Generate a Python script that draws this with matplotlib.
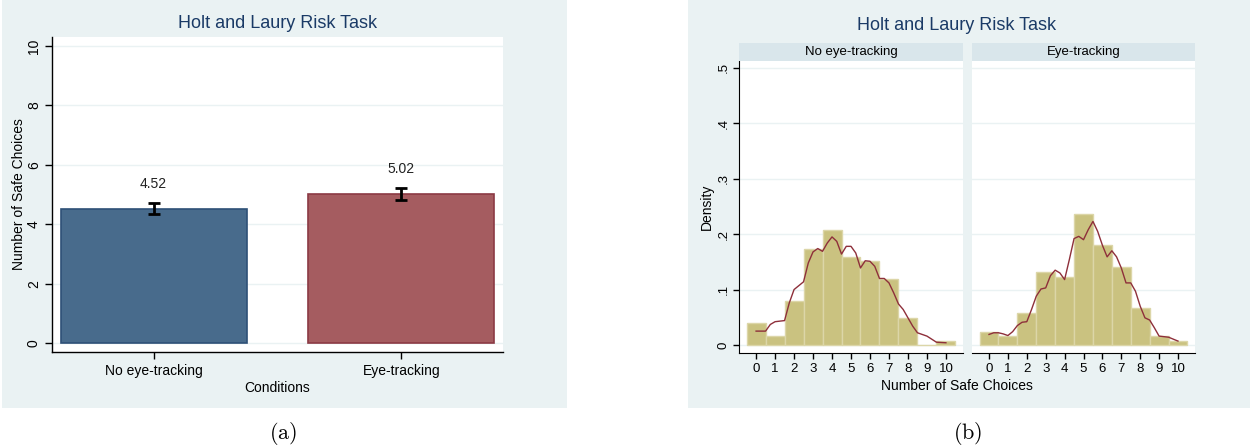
import matplotlib
matplotlib.use("Agg")
import matplotlib.pyplot as plt
from matplotlib.patches import Rectangle

plt.rcParams['font.family'] = ['Liberation Sans', 'DejaVu Sans']
plt.rcParams['mathtext.fontset'] = 'cm'

# Panel (a): mean number of safe choices by condition
conditions = ["No eye-tracking", "Eye-tracking"]
mean_safe = [4.52, 5.02]
se_safe = [0.19, 0.19]

# Panel (b): histogram densities for 0..10 safe choices
choices = list(range(11))
dens_no_et = [0.040, 0.016, 0.079, 0.174, 0.207, 0.158, 0.151, 0.119, 0.048, 0.0, 0.008]
dens_et = [0.024, 0.017, 0.057, 0.131, 0.123, 0.237, 0.180, 0.140, 0.066, 0.017, 0.008]

# kernel density curves
kd_x_no_et = [0, 0.5, 0.75, 1, 1.5, 1.75, 2, 2.5, 2.75, 3, 3.25, 3.5, 3.75, 4, 4.25, 4.5,
              4.75, 5, 5.25, 5.5, 5.75, 6, 6.25, 6.5, 6.75, 7, 7.25, 7.5, 7.75, 8, 8.25,
              8.5, 9, 9.5, 10]
kd_y_no_et = [0.025, 0.025, 0.037, 0.042, 0.044, 0.076, 0.100, 0.114, 0.148, 0.168, 0.174,
              0.169, 0.184, 0.195, 0.187, 0.164, 0.178, 0.178, 0.166, 0.139, 0.152, 0.151,
              0.142, 0.120, 0.120, 0.112, 0.094, 0.074, 0.064, 0.049, 0.034, 0.022, 0.016,
              0.005, 0.004]
kd_x_et = [0, 0.25, 0.5, 0.75, 1, 1.25, 1.5, 1.75, 2, 2.25, 2.5, 2.75, 3, 3.25, 3.5, 3.75,
           4, 4.25, 4.5, 4.75, 5, 5.25, 5.5, 5.75, 6, 6.25, 6.5, 6.75, 7, 7.25, 7.5, 7.75,
           8, 8.25, 8.5, 8.75, 9, 9.5, 10]
kd_y_et = [0.019, 0.022, 0.022, 0.020, 0.017, 0.024, 0.035, 0.041, 0.042, 0.064, 0.088,
           0.101, 0.103, 0.125, 0.135, 0.130, 0.118, 0.154, 0.192, 0.196, 0.190, 0.208,
           0.223, 0.205, 0.180, 0.159, 0.170, 0.159, 0.139, 0.112, 0.112, 0.097, 0.070,
           0.049, 0.045, 0.031, 0.016, 0.014, 0.007]

W, H = 1250, 448
BG = '#eaf2f3'
GRID = '#eaf2f3'
TITLE_C = '#1a3a66'
fig = plt.figure(figsize=(W / 100, H / 100), dpi=100)
fig.patch.set_facecolor('white')


def px_axes(l, t, r, b):
    return fig.add_axes([l / W, 1 - b / H, (r - l) / W, (b - t) / H])


def px_text(x, y, s, **kw):
    fig.text(x / W, 1 - y / H, s, ha='center', va='center', **kw)


# panel backgrounds
fig.add_artist(Rectangle((2 / W, 1 - 408 / H), 565 / W, 408 / H, transform=fig.transFigure,
                         facecolor=BG, edgecolor='none', zorder=-1))
fig.add_artist(Rectangle((688 / W, 1 - 408 / H), 562 / W, 408 / H, transform=fig.transFigure,
                         facecolor=BG, edgecolor='none', zorder=-1))

# ---- (a) bar chart ----
ax = px_axes(52, 37, 503, 352)
pos = [0, 1]
ax.bar(pos, mean_safe, width=0.75, color=['#486b8c', '#a55c60'],
       edgecolor=['#2e5077', '#8b3a44'], linewidth=1.2, zorder=2)
ax.errorbar(pos, mean_safe, yerr=se_safe, fmt='none', ecolor='black',
            elinewidth=2, capsize=4, capthick=2, zorder=3)
for p, m in zip(pos, mean_safe):
    ax.text(p, m + 0.83, f"{m:.2f}", ha='center', va='center', fontsize=10, color='#222222')
ax.set_xlim(-0.41, 1.41)
ax.set_ylim(-0.3, 10.3)
ax.set_yticks(range(0, 11, 2))
ax.set_yticklabels([str(v) for v in range(0, 11, 2)], rotation=90, va='center')
ax.set_xticks(pos)
ax.set_xticklabels(conditions)
ax.tick_params(axis='both', labelsize=10, length=5, width=1, colors='black')
ax.tick_params(axis='y', pad=3)
ax.grid(axis='y', color=GRID, linewidth=1)
ax.set_axisbelow(True)
for s in ['top', 'right']:
    ax.spines[s].set_visible(False)
ax.spines['left'].set_linewidth(1)
ax.spines['bottom'].set_linewidth(1)
ax.set_ylabel("Number of Safe Choices", fontsize=10)
ax.yaxis.set_label_coords((26 - 52) / 451, 0.5)
ax.set_xlabel("Conditions", fontsize=10, labelpad=2)
px_text(278, 23, "Holt and Laury Risk Task", fontsize=13, color=TITLE_C)

# ---- (b) histograms by condition ----
facets = [
    ("No eye-tracking", dens_no_et, kd_x_no_et, kd_y_no_et, 739, 963),
    ("Eye-tracking", dens_et, kd_x_et, kd_y_et, 972, 1195),
]
for i, (name, dens, kx, ky, l, r) in enumerate(facets):
    a = px_axes(l, 61, r, 353)
    a.bar(choices, dens, width=1.0, color='#cac280', edgecolor='#dcd6a8',
          linewidth=1, zorder=2)
    a.plot(kx, ky, color='#8e2f3a', linewidth=1, zorder=3)
    a.set_xlim(-0.9, 10.9)
    a.set_ylim(-0.0145, 0.5125)
    a.set_xticks(choices)
    a.set_yticks([0, 0.1, 0.2, 0.3, 0.4, 0.5])
    a.grid(axis='y', color=GRID, linewidth=1)
    a.set_axisbelow(True)
    a.tick_params(axis='both', labelsize=9.5, length=4, width=1)
    for s in ['top', 'right']:
        a.spines[s].set_visible(False)
    if i == 0:
        a.set_yticklabels(['0', '.1', '.2', '.3', '.4', '.5'], rotation=90, va='center')
        a.tick_params(axis='y', pad=3)
        a.set_ylabel("Density", fontsize=10)
        a.yaxis.set_label_coords((714 - 739) / 224, 0.5)
    else:
        a.spines['left'].set_visible(False)
        a.tick_params(axis='y', left=False, labelleft=False)
    # facet header strip
    fig.add_artist(Rectangle((l / W, 1 - 61 / H), (r - l) / W, 18 / H,
                             transform=fig.transFigure, facecolor='#d9e6eb',
                             edgecolor='none'))
    px_text((l + r) / 2, 52, name, fontsize=9.5)

px_text(957, 26, "Holt and Laury Risk Task", fontsize=13, color=TITLE_C)
px_text(957, 386, "Number of Safe Choices", fontsize=10)

# captions
px_text(283, 433, r"$\mathrm{(a)}$", fontsize=16)
px_text(968, 433, r"$\mathrm{(b)}$", fontsize=16)

fig.savefig("out.png", dpi=100)
